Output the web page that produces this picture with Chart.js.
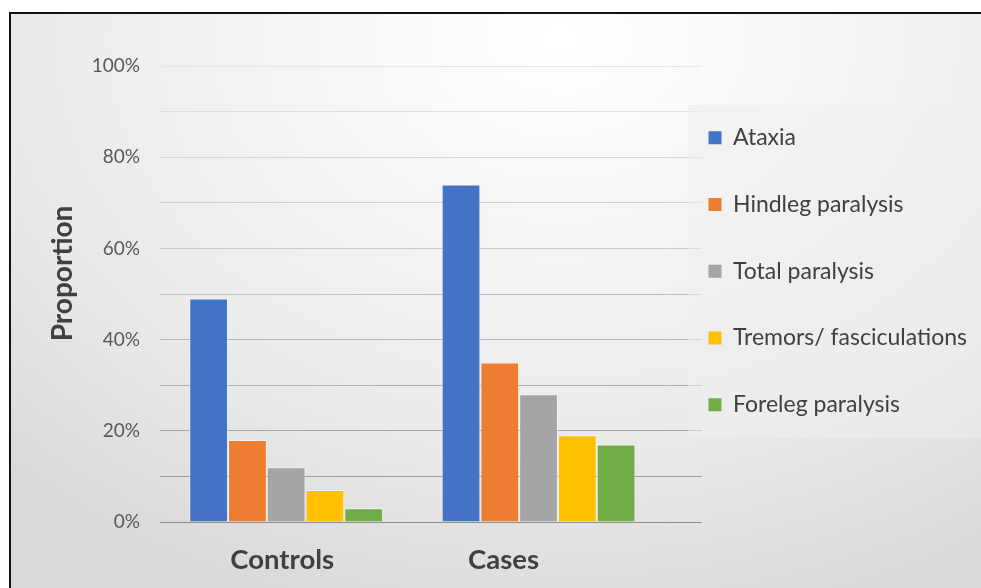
<!DOCTYPE html>
<html>
<head>
<meta charset="utf-8">
<script src="https://cdn.jsdelivr.net/npm/chart.js@4.4.1/dist/chart.umd.min.js"></script>
<style>
  html, body { margin: 0; padding: 0; background: #ffffff; overflow: hidden; }
  #frame {
    position: absolute;
    left: 9px;
    top: 12px;
    width: 970px;
    height: 574px;
    border-left: 2px solid #111;
    border-top: 2px solid #111;
    background: radial-gradient(ellipse 800px 600px at 548px 25px, #ffffff 0%, #f6f6f6 30%, #e9e9e9 70%, #d9d9d9 100%);
  }
  #chart { display: block; }
</style>
</head>
<body>
<div id="frame">
  <canvas id="chart" width="970" height="574"></canvas>
</div>
<script>
// Clinical signs by group
var categories = ['Controls', 'Cases'];
var seriesNames = ['Ataxia', 'Hindleg paralysis', 'Total paralysis', 'Tremors/ fasciculations', 'Foreleg paralysis'];
var ataxia = [49, 74];
var hindlegParalysis = [18, 35];
var totalParalysis = [12, 28];
var tremors = [7, 19];
var forelegParalysis = [3, 17];
var yTicks = [0, 20, 40, 60, 80, 100];

var seriesValues = [ataxia, hindlegParalysis, totalParalysis, tremors, forelegParalysis];
var seriesColors = ['#4472C4', '#ED7D31', '#A5A5A5', '#FFC000', '#70AD47'];

// category labels sit a bit left of the bar groups
var labelNudge = [-4, -35];

Chart.defaults.font.family = 'Lato, "Open Sans", sans-serif';

// gridlines get darker towards the baseline
function gridColor(value) {
    var g = Math.round(140 + 90 * Math.pow(value / 100, 0.8));
    return 'rgb(' + g + ',' + g + ',' + g + ')';
}

var chartDecor = {
    id: 'chartDecor',
    beforeDraw: function(chart) {
        var ctx = chart.ctx;
        var area = chart.chartArea;
        var y = chart.scales.y;
        ctx.save();
        // gridlines run on under the legend panel
        ctx.lineWidth = 1;
        y.ticks.forEach(function(t) {
            var py = Math.round(y.getPixelForValue(t.value) - 0.5) + 0.5;
            ctx.strokeStyle = gridColor(t.value);
            ctx.beginPath();
            ctx.moveTo(area.right, py);
            ctx.lineTo(area.right + 37, py);
            ctx.stroke();
        });
        // legend panel
        ctx.fillStyle = 'rgba(238, 238, 238, 0.55)';
        ctx.fillRect(677, 91, 293, 333);
        ctx.restore();
    },
    afterDraw: function(chart) {
        var ctx = chart.ctx;
        var area = chart.chartArea;
        var x = chart.scales.x;
        ctx.save();
        ctx.fillStyle = '#404040';
        ctx.textAlign = 'center';
        ctx.textBaseline = 'middle';

        // axis title
        ctx.font = 'bold 28px Lato, "Open Sans", sans-serif';
        ctx.translate(51.5, 259.5);
        ctx.rotate(-Math.PI / 2);
        ctx.fillText('Proportion', 0, 0);
        ctx.setTransform(1, 0, 0, 1, 0, 0);

        // category labels
        ctx.font = 'bold 27.5px Lato, "Open Sans", sans-serif';
        categories.forEach(function(label, i) {
            ctx.fillText(label, x.getPixelForValue(i) + labelNudge[i], area.bottom + 38);
        });
        ctx.restore();
    }
};

var datasets = seriesNames.map(function(name, i) {
    return {
        label: name,
        data: seriesValues[i],
        backgroundColor: seriesColors[i],
        borderColor: 'rgba(255, 255, 255, 0.5)',
        borderWidth: 1,
        categoryPercentage: 0.768,
        barPercentage: 1
    };
});

var chart = new Chart(document.getElementById('chart'), {
    type: 'bar',
    data: {
        labels: categories,
        datasets: datasets
    },
    options: {
        responsive: false,
        animation: false,
        layout: {
            padding: { top: 52, bottom: 66, left: 0, right: 4 }
        },
        scales: {
            x: {
                display: false
            },
            y: {
                min: 0,
                max: 100,
                border: { display: false },
                grid: {
                    drawTicks: false,
                    lineWidth: 1,
                    color: function(ctx) { return gridColor(ctx.tick.value); }
                },
                ticks: {
                    stepSize: 10,
                    padding: 20,
                    color: '#595959',
                    font: { size: 19 },
                    callback: function(v) { return yTicks.indexOf(v) >= 0 ? v + '%' : ''; }
                },
                afterFit: function(scale) { scale.width = 149; }
            }
        },
        plugins: {
            tooltip: { enabled: false },
            legend: {
                position: 'right',
                align: 'start',
                fullSize: false,
                maxWidth: 340,
                title: {
                    display: true,
                    text: ' ',
                    padding: 0,
                    font: { size: 13.75 }
                },
                labels: {
                    boxWidth: 13,
                    boxHeight: 13,
                    padding: 43.75,
                    color: '#404040',
                    font: { size: 23 },
                    generateLabels: function(chart) {
                        return Chart.defaults.plugins.legend.labels.generateLabels(chart).map(function(item) {
                            item.lineWidth = 0;
                            return item;
                        });
                    }
                }
            }
        }
    },
    plugins: [chartDecor]
});
</script>
</body>
</html>
